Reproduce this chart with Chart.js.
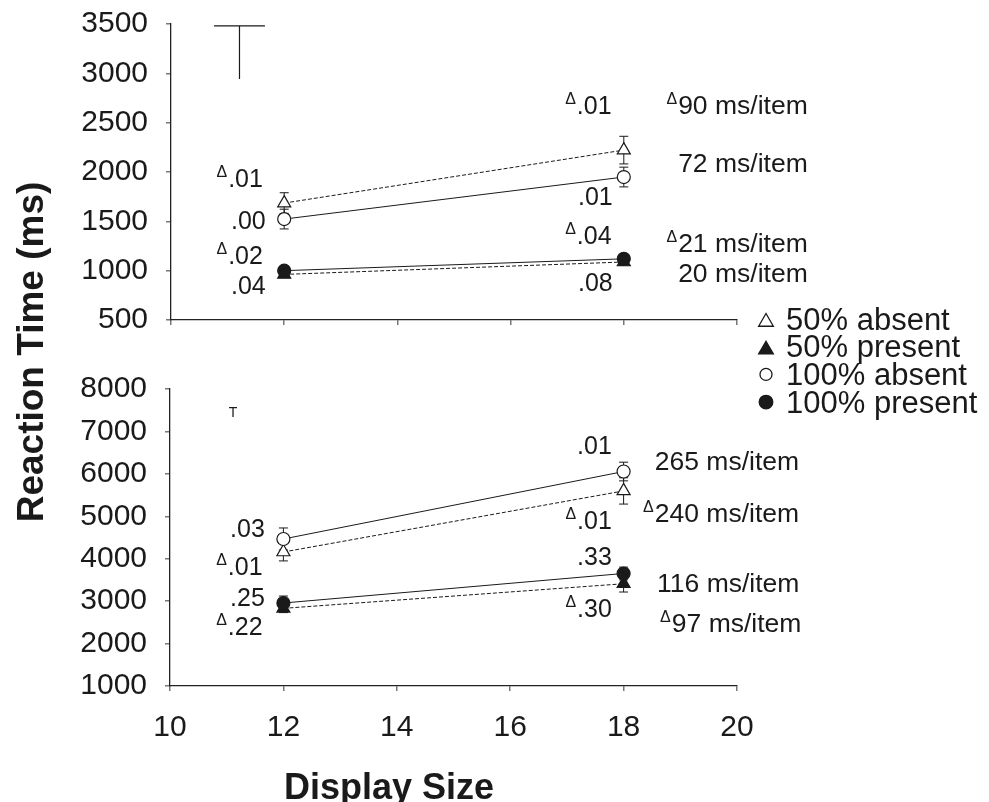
<!DOCTYPE html>
<html>
<head>
<meta charset="utf-8">
<title>Reaction Time by Display Size</title>
<script src="https://cdn.jsdelivr.net/npm/chart.js@4.4.1/dist/chart.umd.min.js"></script>
<style>
    body { margin: 0; background: #fff; }
    .wrap { position: relative; width: 989px; height: 802px; }
    .wrap canvas { position: absolute; left: 0; top: 0; }
</style>
</head>
<body>
<div class="wrap">
    <canvas id="topChart" width="989" height="802"></canvas>
    <canvas id="bottomChart" width="989" height="802"></canvas>
</div>
<script>
// Data
const displaySizes = [12, 18];
const xTicks = [10, 12, 14, 16, 18, 20];

// Top panel (ms)
const topAbsent50 = [1685, 2222];
const topPresent50 = [962, 1088];
const topAbsent100 = [1523, 1949];
const topPresent100 = [1000, 1120];
const topAbsent50Err = [105, 140];
const topPresent50Err = [30, 30];
const topAbsent100Err = [100, 100];
const topPresent100Err = [35, 35];
const topYTicks = [500, 1000, 1500, 2000, 2500, 3000, 3500];

// Bottom panel (ms)
const botAbsent50 = [4158, 5598];
const botPresent50 = [2830, 3410];
const botAbsent100 = [4465, 6055];
const botPresent100 = [2956, 3652];
const botAbsent50Err = [210, 310];
const botPresent50Err = [100, 195];
const botAbsent100Err = [260, 220];
const botPresent100Err = [165, 150];
const botYTicks = [1000, 2000, 3000, 4000, 5000, 6000, 7000, 8000];

// p-values and slopes: [x, y, text, delta]
const topNotes = [
    [11.01, 1919, '.01', true],
    [11.06, 1493, '.00', false],
    [11.01, 1138, '.02', true],
    [11.06, 834, '.04', false],
    [17.17, 2659, '.01', true],
    [18.96, 2659, '90 ms/item', true],
    [18.96, 2071, '72 ms/item', false],
    [17.19, 1736, '.01', false],
    [17.17, 1341, '.04', true],
    [18.96, 1260, '21 ms/item', true],
    [18.96, 956, '20 ms/item', false],
    [17.19, 865, '.08', false]
];
const botNotes = [
    [11.06, 4677, '.03', false],
    [11.02, 3781, '.01', true],
    [11.06, 3050, '.25', false],
    [11.02, 2367, '.22', true],
    [17.18, 6633, '.01', false],
    [18.55, 6256, '265 ms/item', false],
    [17.18, 4865, '.01', true],
    [18.55, 5030, '240 ms/item', true],
    [17.18, 4017, '.33', false],
    [18.59, 3380, '116 ms/item', false],
    [17.18, 2791, '.30', true],
    [18.85, 2438, '97 ms/item', true]
];

const legendLabels = ['50% absent', '50% present', '100% absent', '100% present'];

const FONT = '"Liberation Sans", Arial, Helvetica, sans-serif';
const INK = '#1a1a1a';

function toPoints(values) {
    return values.map((v, i) => ({ x: displaySizes[i], y: v }));
}

function series(values, errors, style, filled, dashed) {
    return {
        data: toPoints(values),
        errors: errors,
        borderColor: INK,
        borderWidth: 1,
        borderDash: dashed ? [4, 2] : [],
        pointStyle: style,
        pointRadius: style === 'triangle' ? 7.5 : 6.5,
        pointBackgroundColor: filled ? INK : '#fff',
        pointBorderColor: INK,
        pointBorderWidth: 1.2,
        tension: 0,
        fill: false
    };
}

// Error bars, drawn under the markers
const errorBars = {
    id: 'errorBars',
    beforeDatasetsDraw(chart) {
        const ctx = chart.ctx;
        const xs = chart.scales.x, ys = chart.scales.y;
        ctx.save();
        ctx.strokeStyle = INK;
        ctx.lineWidth = 1;
        chart.data.datasets.forEach(ds => {
            ds.data.forEach((p, i) => {
                const e = ds.errors[i];
                const px = xs.getPixelForValue(p.x);
                const y1 = ys.getPixelForValue(p.y + e);
                const y2 = ys.getPixelForValue(p.y - e);
                ctx.beginPath();
                ctx.moveTo(px, y1); ctx.lineTo(px, y2);
                ctx.moveTo(px - 4.5, y1); ctx.lineTo(px + 4.5, y1);
                ctx.moveTo(px - 4.5, y2); ctx.lineTo(px + 4.5, y2);
                ctx.stroke();
            });
        });
        ctx.restore();
    }
};

function notesPlugin(notes) {
    return {
        id: 'notes',
        afterDraw(chart) {
            const ctx = chart.ctx;
            const xs = chart.scales.x, ys = chart.scales.y;
            ctx.save();
            ctx.fillStyle = INK;
            ctx.textBaseline = 'middle';
            notes.forEach(n => {
                const px = xs.getPixelForValue(n[0]);
                const py = ys.getPixelForValue(n[1]);
                // slope labels are set a touch larger than the p-values
                ctx.font = (n[2].indexOf('ms') > 0 ? '26.5px ' : '25px ') + FONT;
                ctx.textAlign = 'left';
                ctx.fillText(n[2], px, py);
                if (n[3]) {
                    ctx.font = '16px ' + FONT;
                    ctx.textAlign = 'right';
                    ctx.fillText('\u0394', px - 1, py - 7);
                }
            });
            ctx.restore();
        }
    };
}

function triangle(ctx, x, y, r, filled) {
    ctx.beginPath();
    ctx.moveTo(x, y - r);
    ctx.lineTo(x + r * 0.866, y + r * 0.5);
    ctx.lineTo(x - r * 0.866, y + r * 0.5);
    ctx.closePath();
    ctx.fillStyle = filled ? INK : '#fff';
    ctx.fill();
    ctx.stroke();
}

function circle(ctx, x, y, r, filled) {
    ctx.beginPath();
    ctx.arc(x, y, r, 0, Math.PI * 2);
    ctx.fillStyle = filled ? INK : '#fff';
    ctx.fill();
    ctx.stroke();
}

// Axis titles, legend and the error-size key
const decorations = {
    id: 'decorations',
    afterDraw(chart) {
        const ctx = chart.ctx;
        const xs = chart.scales.x, ys = chart.scales.y;
        ctx.save();
        ctx.strokeStyle = INK;
        ctx.lineWidth = 1.2;

        // key "T" in top panel
        const kx = xs.getPixelForValue(11.21);
        const kTop = ys.getPixelForValue(3480);
        const kBot = ys.getPixelForValue(2943);
        ctx.beginPath();
        ctx.moveTo(xs.getPixelForValue(10.76), kTop);
        ctx.lineTo(xs.getPixelForValue(11.66), kTop);
        ctx.moveTo(kx, kTop);
        ctx.lineTo(kx, kBot);
        ctx.stroke();

        // y title
        ctx.fillStyle = INK;
        ctx.font = 'bold 37px ' + FONT;
        ctx.textAlign = 'center';
        ctx.textBaseline = 'alphabetic';
        ctx.save();
        ctx.translate(43, 352);
        ctx.rotate(-Math.PI / 2);
        ctx.fillText('Reaction Time (ms)', 0, 0);
        ctx.restore();

        // x title
        ctx.font = 'bold 36px ' + FONT;
        ctx.fillText('Display Size', 389, 799);

        // legend
        ctx.font = '31px ' + FONT;
        ctx.textAlign = 'left';
        ctx.textBaseline = 'middle';
        legendLabels.forEach((label, i) => {
            const y = 321 + i * 27.7;
            ctx.lineWidth = 1.3;
            if (i < 2) triangle(ctx, 766, y + 1, 8.5, i === 1);
            else circle(ctx, 766, y - 2, i === 2 ? 6 : 6.8, i === 3);
            ctx.fillStyle = INK;
            ctx.fillText(label, 786, y);
        });
        ctx.restore();
    }
};

const smallKey = {
    id: 'smallKey',
    afterDraw(chart) {
        const ctx = chart.ctx;
        const xs = chart.scales.x, ys = chart.scales.y;
        ctx.save();
        ctx.fillStyle = INK;
        ctx.font = '14px ' + FONT;
        ctx.textAlign = 'center';
        ctx.textBaseline = 'middle';
        ctx.fillText('T', xs.getPixelForValue(11.11), ys.getPixelForValue(7434));
        ctx.restore();
    }
};

// keep tick labels from pushing the plot area around
function noOverflow(s) {
    s.paddingTop = 0;
    s.paddingBottom = 0;
    s.paddingLeft = 0;
    s.paddingRight = 0;
}

function axisX(showLabels, height) {
    return {
        type: 'linear',
        min: 10,
        max: 20,
        afterBuildTicks: s => { s.ticks = xTicks.map(v => ({ value: v })); },
        ticks: {
            display: showLabels,
            padding: 19,
            color: INK,
            font: { family: FONT, size: 30, lineHeight: 1.2 },
            callback: v => String(v)
        },
        grid: { drawOnChartArea: false, tickLength: 5, color: '#777', lineWidth: 1.5 },
        border: { color: '#222', width: 1.3 },
        afterFit: s => { s.height = height; noOverflow(s); }
    };
}

function axisY(min, max, tickValues, width) {
    return {
        min: min,
        max: max,
        afterBuildTicks: s => { s.ticks = tickValues.map(v => ({ value: v })); },
        ticks: {
            padding: 18,
            color: INK,
            font: { family: FONT, size: 30, lineHeight: 1.2 },
            callback: v => String(v)
        },
        grid: { drawOnChartArea: false, tickLength: 5, color: '#777', lineWidth: 1.5 },
        border: { color: '#222', width: 1.3 },
        afterFit: s => { s.width = width; noOverflow(s); }
    };
}

const baseOptions = {
    responsive: false,
    animation: false,
    events: [],
    plugins: { legend: { display: false }, tooltip: { enabled: false } }
};

// Top panel: chart area 171..737 x 24..320
const ctxTop = document.getElementById('topChart').getContext('2d');
const topChart = new Chart(ctxTop, {
    type: 'line',
    data: {
        datasets: [
            series(topAbsent50, topAbsent50Err, 'triangle', false, true),
            series(topAbsent100, topAbsent100Err, 'circle', false, false),
            series(topPresent100, topPresent100Err, 'circle', true, false),
            series(topPresent50, topPresent50Err, 'triangle', true, true)
        ]
    },
    options: Object.assign({}, baseOptions, {
        layout: { padding: { left: 0, top: 24, right: 252, bottom: 802 - 320 - 10 } },
        scales: {
            x: axisX(false, 10),
            y: axisY(500, 3500, topYTicks, 171)
        }
    }),
    plugins: [errorBars, notesPlugin(topNotes), decorations]
});

// Bottom panel: chart area 170..737 x 389..686
const ctxBot = document.getElementById('bottomChart').getContext('2d');
const bottomChart = new Chart(ctxBot, {
    type: 'line',
    data: {
        datasets: [
            series(botAbsent100, botAbsent100Err, 'circle', false, false),
            series(botAbsent50, botAbsent50Err, 'triangle', false, true),
            series(botPresent100, botPresent100Err, 'circle', true, false),
            series(botPresent50, botPresent50Err, 'triangle', true, true)
        ]
    },
    options: Object.assign({}, baseOptions, {
        layout: { padding: { left: 0, top: 389, right: 252, bottom: 0 } },
        scales: {
            x: axisX(true, 802 - 686),
            y: axisY(1000, 8000, botYTicks, 170)
        }
    }),
    plugins: [errorBars, notesPlugin(botNotes), smallKey]
});
</script>
</body>
</html>
